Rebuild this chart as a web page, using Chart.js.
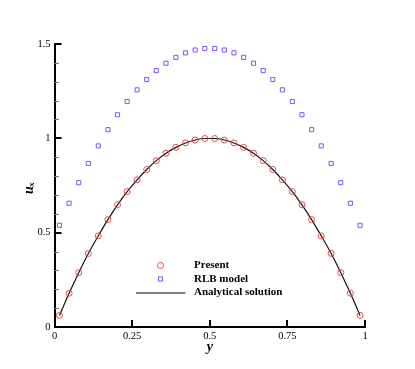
<!DOCTYPE html>
<html>
<head>
<meta charset="utf-8">
<script src="https://cdn.jsdelivr.net/npm/chart.js@4/dist/chart.umd.min.js"></script>
<style>
  html, body { margin: 0; padding: 0; background: #fff; }
  #wrap { width: 415px; height: 369px; }
</style>
</head>
<body>
<div id="wrap"><canvas id="profile_chart"></canvas></div>
<script>
// y positions of the lattice nodes across the channel
const yNodes = [0.016, 0.047, 0.078, 0.109, 0.141, 0.172, 0.203, 0.234, 0.266, 0.297, 0.328,
                0.359, 0.391, 0.422, 0.453, 0.484, 0.516, 0.547, 0.578, 0.609, 0.641, 0.672,
                0.703, 0.734, 0.766, 0.797, 0.828, 0.859, 0.891, 0.922, 0.953, 0.984];
const presentUx = [0.062, 0.179, 0.288, 0.390, 0.483, 0.569, 0.648, 0.718, 0.780, 0.835, 0.882,
                   0.921, 0.952, 0.976, 0.991, 0.999, 0.999, 0.991, 0.976, 0.952, 0.921, 0.882,
                   0.835, 0.780, 0.718, 0.648, 0.569, 0.483, 0.390, 0.288, 0.179, 0.062];
const rlbUx = [0.539, 0.656, 0.765, 0.867, 0.960, 1.046, 1.125, 1.195, 1.257, 1.312, 1.359,
               1.398, 1.429, 1.453, 1.468, 1.476, 1.476, 1.468, 1.453, 1.429, 1.398, 1.359,
               1.312, 1.257, 1.195, 1.125, 1.046, 0.960, 0.867, 0.765, 0.656, 0.539];
const analyticalUx = [0.0615, 0.1787, 0.2881, 0.3896, 0.4834, 0.5693, 0.6475, 0.7178, 0.7803, 0.8350, 0.8818,
                      0.9209, 0.9521, 0.9756, 0.9912, 0.9990, 0.9990, 0.9912, 0.9756, 0.9521, 0.9209, 0.8818,
                      0.8350, 0.7803, 0.7178, 0.6475, 0.5693, 0.4834, 0.3896, 0.2881, 0.1787, 0.0615];
const seriesNames = ['Present', 'RLB model', 'Analytical solution'];
const xTicks = [0, 0.25, 0.5, 0.75, 1];
const xTickLabels = ['0', '0.25', '0.5', '0.75', '1'];
const yTicks = [0, 0.5, 1, 1.5];
const yTickLabels = ['0', '0.5', '1', '1.5'];
const yMinor = [0.1, 0.2, 0.3, 0.4, 0.6, 0.7, 0.8, 0.9, 1.1, 1.2, 1.3, 1.4];

const RED = '#e04a4a';
const PURPLE = '#8452f2';
const SERIF = '"Liberation Serif", "Times New Roman", serif';

function pairs(xs, ys) {
    return xs.map((x, i) => ({ x: x, y: ys[i] }));
}

// ticks pointing into the plot, axis titles and the legend inside the frame
const decorations = {
    id: 'decorations',
    afterDraw(chart) {
        const ctx = chart.ctx;
        const xs = chart.scales.x, ys = chart.scales.y;
        const area = chart.chartArea;
        ctx.save();
        ctx.strokeStyle = '#000';
        ctx.lineWidth = 2;
        ctx.beginPath();
        xTicks.slice(1).forEach(v => {
            const px = Math.round(xs.getPixelForValue(v));
            ctx.moveTo(px, area.bottom);
            ctx.lineTo(px, area.bottom - 7);
        });
        yTicks.slice(1).forEach(v => {
            const py = Math.round(ys.getPixelForValue(v));
            ctx.moveTo(area.left, py);
            ctx.lineTo(area.left + 7, py);
        });
        ctx.stroke();
        ctx.strokeStyle = '#777';
        ctx.lineWidth = 1;
        ctx.beginPath();
        yMinor.forEach(v => {
            const py = Math.round(ys.getPixelForValue(v)) + 0.5;
            ctx.moveTo(area.left, py);
            ctx.lineTo(area.left + 4.5, py);
        });
        ctx.stroke();

        // axis titles
        ctx.fillStyle = '#000';
        ctx.font = 'italic bold 14px ' + SERIF;
        ctx.textAlign = 'center';
        ctx.textBaseline = 'alphabetic';
        ctx.fillText('y', (area.left + area.right) / 2, 351);
        ctx.save();
        ctx.translate(32.5, 194);
        ctx.rotate(-Math.PI / 2);
        ctx.textAlign = 'left';
        ctx.fillText('u', 0, 0);
        const uw = ctx.measureText('u').width;
        ctx.font = 'italic bold 9px ' + SERIF;
        ctx.fillText('x', uw - 0.5, 1.5);
        ctx.restore();

        // legend
        const rows = [265.5, 279, 292.5];
        const mx = 160.5, tx = 194;
        ctx.lineWidth = 1;
        ctx.strokeStyle = RED;
        ctx.beginPath();
        ctx.arc(mx, rows[0], 3, 0, Math.PI * 2);
        ctx.stroke();
        ctx.strokeStyle = PURPLE;
        ctx.strokeRect(mx - 2, rows[1] - 2, 4, 4);
        ctx.strokeStyle = '#000';
        ctx.beginPath();
        ctx.moveTo(136, rows[2] + 0.5);
        ctx.lineTo(185.5, rows[2] + 0.5);
        ctx.stroke();
        ctx.font = 'bold 11px ' + SERIF;
        ctx.textAlign = 'left';
        ctx.textBaseline = 'middle';
        seriesNames.forEach((name, i) => ctx.fillText(name, tx, rows[i]));
        ctx.restore();
    }
};

function labelFor(values, labels) {
    return v => {
        const i = values.findIndex(t => Math.abs(t - v) < 1e-6);
        return i < 0 ? '' : labels[i];
    };
}

function add_chart() {
    const ctx = document.getElementById('profile_chart');
    Chart.defaults.font.family = SERIF;
    Chart.defaults.color = '#000';
    new Chart(ctx, {
        type: 'scatter',
        data: {
            datasets: [{
                label: seriesNames[2],
                data: pairs(yNodes, analyticalUx),
                showLine: true,
                borderColor: '#111',
                borderWidth: 1.2,
                pointRadius: 0,
                cubicInterpolationMode: 'monotone',
                order: 2
            }, {
                label: seriesNames[0],
                data: pairs(yNodes, presentUx),
                pointStyle: 'circle',
                pointRadius: 3,
                borderWidth: 1,
                borderColor: RED,
                backgroundColor: 'rgba(0,0,0,0)',
                order: 1
            }, {
                label: seriesNames[1],
                data: pairs(yNodes, rlbUx),
                pointStyle: 'rect',
                pointRadius: 2.9,
                borderWidth: 1,
                borderColor: PURPLE,
                backgroundColor: 'rgba(0,0,0,0)',
                order: 1
            }]
        },
        options: {
            responsive: true,
            maintainAspectRatio: false,
            animation: false,
            layout: { padding: { left: 0, right: 50, top: 44, bottom: 0 } },
            plugins: { legend: { display: false }, tooltip: { enabled: false } },
            scales: {
                x: {
                    type: 'linear',
                    min: 0, max: 1,
                    grid: { display: false, drawTicks: false },
                    border: { display: true, color: '#000', width: 2 },
                    afterBuildTicks: s => { s.ticks = xTicks.map(v => ({ value: v })); },
                    ticks: { padding: 3, font: { size: 10.5 }, color: '#000',
                             callback: labelFor(xTicks, xTickLabels) },
                    afterFit: s => { s.height = 42; }
                },
                y: {
                    type: 'linear',
                    min: 0, max: 1.5,
                    grid: { display: false, drawTicks: false },
                    border: { display: true, color: '#000', width: 2 },
                    afterBuildTicks: s => { s.ticks = yTicks.map(v => ({ value: v })); },
                    ticks: { padding: 4, font: { size: 10.5 }, color: '#000',
                             callback: labelFor(yTicks, yTickLabels) },
                    afterFit: s => { s.width = 54.5; }
                }
            }
        },
        plugins: [decorations]
    });
}

add_chart();
</script>
</body>
</html>
